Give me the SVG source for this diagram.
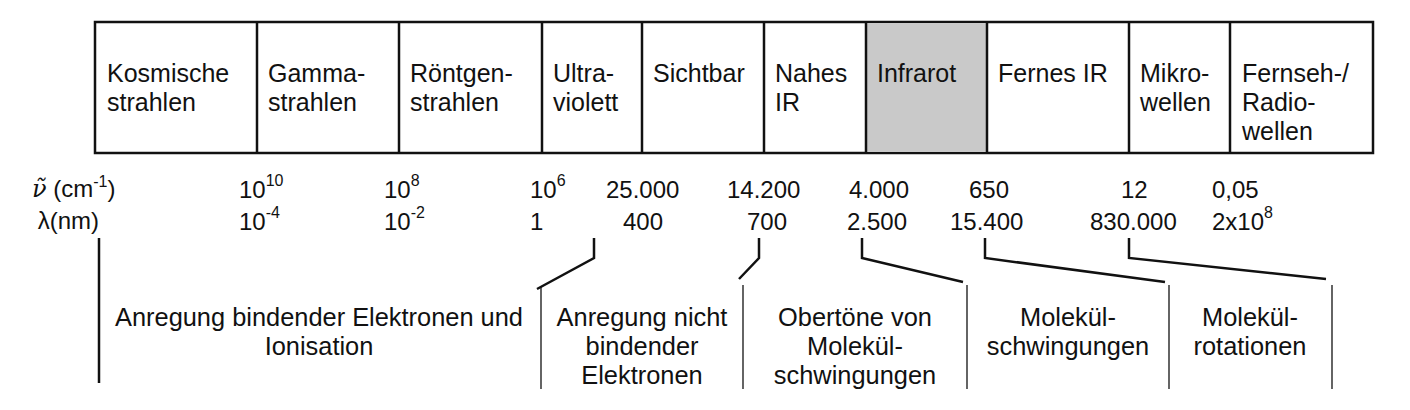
<svg xmlns="http://www.w3.org/2000/svg" width="1410" height="410" viewBox="0 0 1410 410">
<style>
text{font-family:"Liberation Sans",Arial,sans-serif;fill:#111}
.t{font-size:25px}
.n{font-size:24px}
.s{font-size:16px}
.b{font-size:25.4px;text-anchor:middle}
.cell{fill:#fff;stroke:#111;stroke-width:2.5}
.thick{fill:none;stroke:#111;stroke-width:2.5;stroke-linejoin:miter}
.thin{fill:none;stroke:#111;stroke-width:1.3}
</style>
<rect width="1410" height="410" fill="#fff"/>
<g id="table">
<rect class="cell" x="95" y="22" width="1278" height="131"/>
<rect x="867" y="23" width="119" height="129" fill="#c9c9c9"/>
<g class="thick">
<line x1="257" y1="22" x2="257" y2="153"/>
<line x1="399" y1="22" x2="399" y2="153"/>
<line x1="542" y1="22" x2="542" y2="153"/>
<line x1="642" y1="22" x2="642" y2="153"/>
<line x1="764" y1="22" x2="764" y2="153"/>
<line x1="866" y1="22" x2="866" y2="153"/>
<line x1="987" y1="22" x2="987" y2="153"/>
<line x1="1129" y1="22" x2="1129" y2="153"/>
<line x1="1230" y1="22" x2="1230" y2="153"/>
</g>
</g>
<g id="cell-kosmisch"><text class="t" x="107" y="82">Kosmische</text><text class="t" x="107" y="111">strahlen</text></g>
<g id="cell-gamma"><text class="t" x="268" y="82">Gamma-</text><text class="t" x="268" y="111">strahlen</text></g>
<g id="cell-roentgen"><text class="t" x="410" y="82">Röntgen-</text><text class="t" x="410" y="111">strahlen</text></g>
<g id="cell-uv"><text class="t" x="553" y="82">Ultra-</text><text class="t" x="553" y="111">violett</text></g>
<g id="cell-vis"><text class="t" x="653" y="82">Sichtbar</text></g>
<g id="cell-nir"><text class="t" x="775" y="82">Nahes</text><text class="t" x="775" y="111">IR</text></g>
<g id="cell-ir"><text class="t" x="877" y="82">Infrarot</text></g>
<g id="cell-fir"><text class="t" x="998" y="82">Fernes IR</text></g>
<g id="cell-mw"><text class="t" x="1140" y="82">Mikro-</text><text class="t" x="1140" y="111">wellen</text></g>
<g id="cell-radio"><text class="t" x="1242" y="82">Fernseh-/</text><text class="t" x="1242" y="111">Radio-</text><text class="t" x="1242" y="140">wellen</text></g>

<g id="row-wavenumber">
<text x="32" y="197" font-size="24"><tspan font-family="DejaVu Serif" font-style="italic">ν̃</tspan> (cm<tspan class="s" dy="-10">-1</tspan><tspan dy="10">)</tspan></text>
<text class="n" x="239" y="198">10<tspan class="s" dy="-12">10</tspan></text>
<text class="n" x="384" y="198">10<tspan class="s" dy="-12">8</tspan></text>
<text class="n" x="530" y="198">10<tspan class="s" dy="-12">6</tspan></text>
<text class="n" x="606" y="198">25.000</text>
<text class="n" x="727" y="198">14.200</text>
<text class="n" x="849" y="198">4.000</text>
<text class="n" x="969" y="198">650</text>
<text class="n" x="1121" y="198">12</text>
<text class="n" x="1212" y="198">0,05</text>
</g>
<g id="row-wavelength">
<text class="n" x="99" y="229" text-anchor="end">λ(nm)</text>
<text class="n" x="239" y="230">10<tspan class="s" dy="-12">-4</tspan></text>
<text class="n" x="384" y="230">10<tspan class="s" dy="-12">-2</tspan></text>
<text class="n" x="530" y="230">1</text>
<text class="n" x="623" y="230">400</text>
<text class="n" x="747" y="230">700</text>
<text class="n" x="847" y="230">2.500</text>
<text class="n" x="950" y="230">15.400</text>
<text class="n" x="1090" y="230">830.000</text>
<text class="n" x="1212" y="230">2x10<tspan class="s" dy="-12">8</tspan></text>
</g>

<g id="connectors">
<line class="thick" x1="99" y1="238" x2="99" y2="383"/>
<polyline class="thick" points="594,238 594,258 537,289"/>
<line class="thin" x1="541" y1="287" x2="541" y2="389"/>
<polyline class="thick" points="759,238 759,258 739,279"/>
<line class="thin" x1="743" y1="285" x2="743" y2="389"/>
<polyline class="thick" points="862,238 862,258 963,282"/>
<line class="thin" x1="967" y1="285" x2="967" y2="389"/>
<polyline class="thick" points="985,238 985,258 1165,282"/>
<line class="thin" x1="1169" y1="285" x2="1169" y2="389"/>
<polyline class="thick" points="1129,238 1129,258 1326,279"/>
<line class="thin" x1="1332" y1="285" x2="1332" y2="389"/>
</g>

<g id="range-ionisation"><text class="b" x="319" y="326">Anregung bindender Elektronen und</text><text class="b" x="319" y="355">Ionisation</text></g>
<g id="range-nonbonding"><text class="b" x="642" y="326">Anregung nicht</text><text class="b" x="642" y="355">bindender</text><text class="b" x="642" y="384">Elektronen</text></g>
<g id="range-overtones"><text class="b" x="855" y="326">Obertöne von</text><text class="b" x="855" y="355">Molekül-</text><text class="b" x="855" y="384">schwingungen</text></g>
<g id="range-vibrations"><text class="b" x="1068" y="326">Molekül-</text><text class="b" x="1068" y="355">schwingungen</text></g>
<g id="range-rotations"><text class="b" x="1250" y="326">Molekül-</text><text class="b" x="1250" y="355">rotationen</text></g>
</svg>
